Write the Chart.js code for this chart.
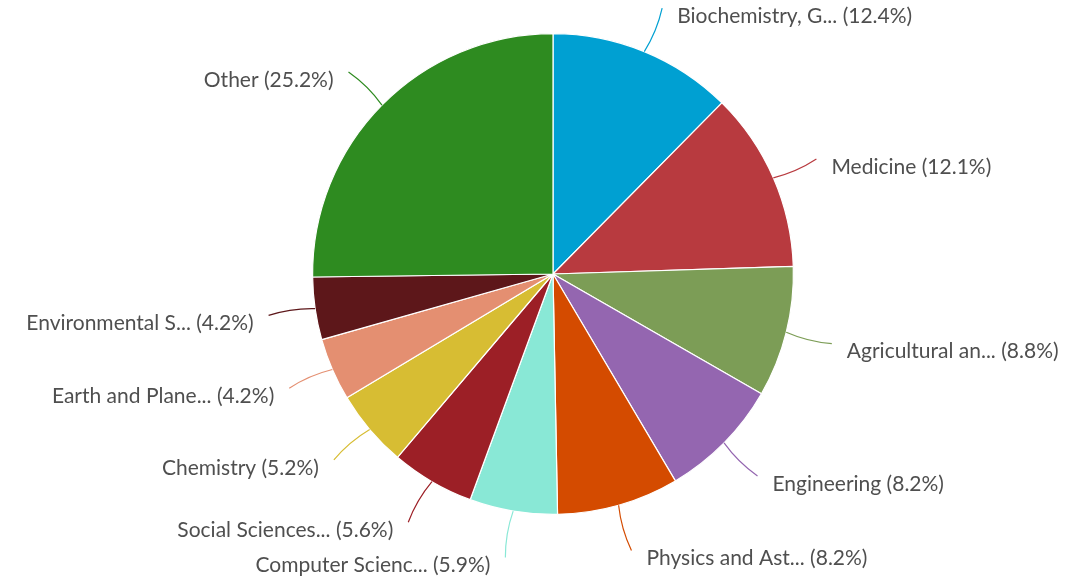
<!DOCTYPE html>
<html>
<head>
<meta charset="utf-8">
<script src="https://cdn.jsdelivr.net/npm/chart.js@4"></script>
<style>
html,body{margin:0;padding:0;background:#fff;}
#wrap{position:relative;width:1072px;height:576px;}
</style>
</head>
<body>
<div id="wrap"><canvas id="c" width="1072" height="576"></canvas></div>
<script>
const categories = [
  "Biochemistry, G...",
  "Medicine",
  "Agricultural an...",
  "Engineering",
  "Physics and Ast...",
  "Computer Scienc...",
  "Social Sciences...",
  "Chemistry",
  "Earth and Plane...",
  "Environmental S...",
  "Other"
];
const shares = [12.4, 12.1, 8.8, 8.2, 8.2, 5.9, 5.6, 5.2, 4.2, 4.2, 25.2];
const colors = [
  "#00a0d2", "#b83a3f", "#7c9d56", "#9466b0", "#d44b00",
  "#89e8d6", "#9c1f26", "#d7bd33", "#e48f71", "#5d171a", "#2e8b20"
];

const FONT = '21px Lato, "Open Sans", sans-serif';

const labelPlugin = {
  id: 'sliceLabels',
  afterDatasetsDraw(chart) {
    const ctx = chart.ctx;
    const meta = chart.getDatasetMeta(0);
    ctx.save();
    ctx.font = FONT;
    ctx.textBaseline = 'middle';
    meta.data.forEach((arc, i) => {
      const p = arc.getProps(['x','y','startAngle','endAngle','outerRadius'], true);
      const mid = (p.startAngle + p.endAngle) / 2;
      const R = p.outerRadius;
      const cx = Math.cos(mid), sy = Math.sin(mid);
      const x0 = p.x + cx * R, y0 = p.y + sy * R;
      const x1 = p.x + cx * (R + 47), y1 = p.y + sy * (R + 47);
      const right = cx >= 0;
      const mx = (x0 + x1) / 2 + (-sy) * 4, my = (y0 + y1) / 2 + cx * 4;
      ctx.strokeStyle = colors[i];
      ctx.lineWidth = 1.2;
      ctx.beginPath();
      ctx.moveTo(x0, y0);
      ctx.quadraticCurveTo(mx, my, x1, y1);
      ctx.stroke();
      ctx.fillStyle = '#4f4f4f';
      ctx.textAlign = right ? 'left' : 'right';
      const txt = categories[i] + ' (' + shares[i].toFixed(1) + '%)';
      ctx.fillText(txt, right ? x1 + 15 : x1 - 15, y1 + 8);
    });
    ctx.restore();
  }
};

new Chart(document.getElementById('c'), {
  type: 'pie',
  data: {
    labels: categories,
    datasets: [{
      data: shares,
      backgroundColor: colors,
      borderColor: '#ffffff',
      borderWidth: 1.2
    }]
  },
  options: {
    responsive: false,
    animation: false,
    layout: { padding: { left: 312, right: 278, top: 33, bottom: 61 } },
    plugins: {
      legend: { display: false },
      tooltip: { enabled: false }
    }
  },
  plugins: [labelPlugin]
});
</script>
</body>
</html>
